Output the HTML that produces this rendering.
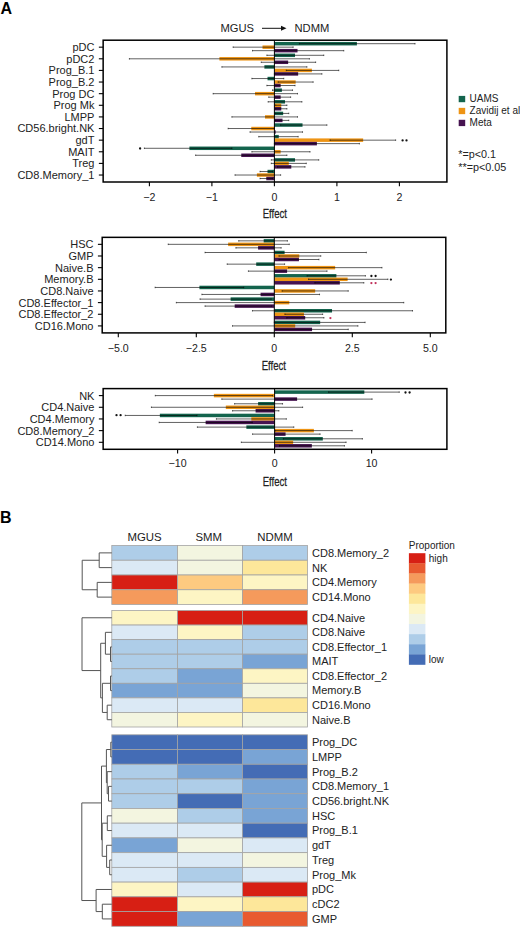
<!DOCTYPE html>
<html><head><meta charset="utf-8"><title>Figure</title>
<style>
html,body{margin:0;padding:0;background:#fff;}
body{width:520px;height:928px;overflow:hidden;}
svg{display:block;}
text{font-family:"Liberation Sans",sans-serif;fill:#222;}
.yl{font-size:11px;}
.xt{font-size:10.6px;}
.xl{font-size:12.6px;stroke:#222;stroke-width:0.25px;}
.tt{font-size:11.2px;}
.lg{font-size:10px;}
.st{font-size:10px;font-weight:bold;}
.big{font-size:16px;font-weight:bold;fill:#000;}
.hl{font-size:11px;}
.hc{font-size:11.4px;}
.hp{font-size:10px;}
</style></head><body>
<svg width="520" height="928" viewBox="0 0 520 928">
<rect width="520" height="928" fill="#fff"/>
<rect x="274.4" y="41.94" width="82.5" height="3.49" fill="#13644d"/>
<rect x="262.52" y="45.43" width="11.88" height="3.49" fill="#ee9414"/>
<rect x="274.4" y="48.92" width="23.12" height="3.49" fill="#461350"/>
<path d="M299.4 42.94 V44.44 M299.4 43.69 H415.02 M415.02 42.94 V44.44" stroke="#000" stroke-opacity="0.62" stroke-width="1" fill="none"/>
<path d="M233.15 46.42 V47.92 M233.15 47.17 H293.15 M293.15 46.42 V47.92" stroke="#000" stroke-opacity="0.62" stroke-width="1" fill="none"/>
<path d="M252.52 49.91 V51.41 M252.52 50.66 H343.77 M343.77 49.91 V51.41" stroke="#000" stroke-opacity="0.62" stroke-width="1" fill="none"/>
<rect x="274.4" y="53.57" width="20.62" height="3.49" fill="#13644d"/>
<rect x="219.4" y="57.05" width="55" height="3.49" fill="#ee9414"/>
<rect x="274.4" y="60.54" width="13.75" height="3.49" fill="#461350"/>
<path d="M266.9 54.56 V56.06 M266.9 55.31 H323.77 M323.77 54.56 V56.06" stroke="#000" stroke-opacity="0.62" stroke-width="1" fill="none"/>
<path d="M129.4 58.05 V59.55 M129.4 58.8 H309.4 M309.4 58.05 V59.55" stroke="#000" stroke-opacity="0.62" stroke-width="1" fill="none"/>
<path d="M261.27 61.53 V63.03 M261.27 62.28 H315.65 M315.65 61.53 V63.03" stroke="#000" stroke-opacity="0.62" stroke-width="1" fill="none"/>
<rect x="264.4" y="65.19" width="10" height="3.49" fill="#13644d"/>
<rect x="274.4" y="68.68" width="37.5" height="3.49" fill="#ee9414"/>
<rect x="274.4" y="72.16" width="23.75" height="3.49" fill="#461350"/>
<path d="M221.9 66.18 V67.68 M221.9 66.93 H306.9 M306.9 66.18 V67.68" stroke="#000" stroke-opacity="0.62" stroke-width="1" fill="none"/>
<path d="M286.27 69.67 V71.17 M286.27 70.42 H338.77 M338.77 69.67 V71.17" stroke="#000" stroke-opacity="0.62" stroke-width="1" fill="none"/>
<path d="M274.4 73.16 V74.66 M274.4 73.91 H321.9 M321.9 73.16 V74.66" stroke="#000" stroke-opacity="0.62" stroke-width="1" fill="none"/>
<rect x="267.52" y="76.81" width="6.88" height="3.49" fill="#13644d"/>
<rect x="274.4" y="80.3" width="21.25" height="3.49" fill="#ee9414"/>
<rect x="274.4" y="83.79" width="6.25" height="3.49" fill="#461350"/>
<path d="M251.9 77.81 V79.31 M251.9 78.56 H283.77 M283.77 77.81 V79.31" stroke="#000" stroke-opacity="0.62" stroke-width="1" fill="none"/>
<path d="M278.15 81.29 V82.79 M278.15 82.04 H313.15 M313.15 81.29 V82.79" stroke="#000" stroke-opacity="0.62" stroke-width="1" fill="none"/>
<path d="M266.9 84.78 V86.28 M266.9 85.53 H295.02 M295.02 84.78 V86.28" stroke="#000" stroke-opacity="0.62" stroke-width="1" fill="none"/>
<rect x="274.4" y="88.44" width="7.5" height="3.49" fill="#13644d"/>
<rect x="255.02" y="91.92" width="19.38" height="3.49" fill="#ee9414"/>
<rect x="274.4" y="95.41" width="6.25" height="3.49" fill="#461350"/>
<path d="M272.52 89.43 V90.93 M272.52 90.18 H292.52 M292.52 89.43 V90.93" stroke="#000" stroke-opacity="0.62" stroke-width="1" fill="none"/>
<path d="M213.15 92.92 V94.42 M213.15 93.67 H297.52 M297.52 92.92 V94.42" stroke="#000" stroke-opacity="0.62" stroke-width="1" fill="none"/>
<path d="M268.77 96.4 V97.9 M268.77 97.15 H290.65 M290.65 96.4 V97.9" stroke="#000" stroke-opacity="0.62" stroke-width="1" fill="none"/>
<rect x="274.4" y="100.06" width="10.62" height="3.49" fill="#13644d"/>
<rect x="274.4" y="103.55" width="6.88" height="3.49" fill="#ee9414"/>
<rect x="274.4" y="107.03" width="6.88" height="3.49" fill="#461350"/>
<path d="M268.15 101.05 V102.55 M268.15 101.8 H301.9 M301.9 101.05 V102.55" stroke="#000" stroke-opacity="0.62" stroke-width="1" fill="none"/>
<path d="M275.65 104.54 V106.04 M275.65 105.29 H286.9 M286.9 104.54 V106.04" stroke="#000" stroke-opacity="0.62" stroke-width="1" fill="none"/>
<path d="M275.65 108.03 V109.53 M275.65 108.78 H286.9 M286.9 108.03 V109.53" stroke="#000" stroke-opacity="0.62" stroke-width="1" fill="none"/>
<rect x="274.4" y="111.68" width="8.75" height="3.49" fill="#13644d"/>
<rect x="265.02" y="115.17" width="9.38" height="3.49" fill="#ee9414"/>
<rect x="274.4" y="118.65" width="8.12" height="3.49" fill="#461350"/>
<path d="M275.02 112.67 V114.17 M275.02 113.42 H288.77 M288.77 112.67 V114.17" stroke="#000" stroke-opacity="0.62" stroke-width="1" fill="none"/>
<path d="M231.9 116.16 V117.66 M231.9 116.91 H297.52 M297.52 116.16 V117.66" stroke="#000" stroke-opacity="0.62" stroke-width="1" fill="none"/>
<path d="M275.02 119.65 V121.15 M275.02 120.4 H288.77 M288.77 119.65 V121.15" stroke="#000" stroke-opacity="0.62" stroke-width="1" fill="none"/>
<rect x="274.4" y="123.3" width="28.12" height="3.49" fill="#13644d"/>
<rect x="251.27" y="126.79" width="23.12" height="3.49" fill="#ee9414"/>
<rect x="274.4" y="130.28" width="1.25" height="3.49" fill="#461350"/>
<path d="M280.65 124.3 V125.8 M280.65 125.05 H326.9 M326.9 124.3 V125.8" stroke="#000" stroke-opacity="0.62" stroke-width="1" fill="none"/>
<path d="M228.15 127.78 V129.28 M228.15 128.53 H274.4 M274.4 127.78 V129.28" stroke="#000" stroke-opacity="0.62" stroke-width="1" fill="none"/>
<path d="M250.02 131.27 V132.77 M250.02 132.02 H302.52 M302.52 131.27 V132.77" stroke="#000" stroke-opacity="0.62" stroke-width="1" fill="none"/>
<rect x="274.4" y="134.93" width="4.38" height="3.49" fill="#13644d"/>
<rect x="274.4" y="138.41" width="88.75" height="3.49" fill="#ee9414"/>
<rect x="274.4" y="141.9" width="42.5" height="3.49" fill="#461350"/>
<path d="M258.77 135.92 V137.42 M258.77 136.67 H298.15 M298.15 135.92 V137.42" stroke="#000" stroke-opacity="0.62" stroke-width="1" fill="none"/>
<path d="M330.02 139.41 V140.91 M330.02 140.16 H395.65 M395.65 139.41 V140.91" stroke="#000" stroke-opacity="0.62" stroke-width="1" fill="none"/>
<path d="M274.4 142.89 V144.39 M274.4 143.64 H359.4 M359.4 142.89 V144.39" stroke="#000" stroke-opacity="0.62" stroke-width="1" fill="none"/>
<rect x="189.4" y="146.55" width="85" height="3.49" fill="#13644d"/>
<rect x="274.4" y="150.04" width="6.25" height="3.49" fill="#ee9414"/>
<rect x="241.27" y="153.52" width="33.12" height="3.49" fill="#461350"/>
<path d="M144.4 147.54 V149.04 M144.4 148.29 H231.9 M231.9 147.54 V149.04" stroke="#000" stroke-opacity="0.62" stroke-width="1" fill="none"/>
<path d="M251.9 151.03 V152.53 M251.9 151.78 H310.02 M310.02 151.03 V152.53" stroke="#000" stroke-opacity="0.62" stroke-width="1" fill="none"/>
<path d="M195.65 154.52 V156.02 M195.65 155.27 H286.9 M286.9 154.52 V156.02" stroke="#000" stroke-opacity="0.62" stroke-width="1" fill="none"/>
<rect x="274.4" y="158.17" width="20.62" height="3.49" fill="#13644d"/>
<rect x="274.4" y="161.66" width="14.38" height="3.49" fill="#ee9414"/>
<rect x="274.4" y="165.15" width="16.88" height="3.49" fill="#461350"/>
<path d="M271.27 159.17 V160.67 M271.27 159.92 H318.77 M318.77 159.17 V160.67" stroke="#000" stroke-opacity="0.62" stroke-width="1" fill="none"/>
<path d="M271.27 162.65 V164.15 M271.27 163.4 H306.27 M306.27 162.65 V164.15" stroke="#000" stroke-opacity="0.62" stroke-width="1" fill="none"/>
<path d="M277.52 166.14 V167.64 M277.52 166.89 H305.02 M305.02 166.14 V167.64" stroke="#000" stroke-opacity="0.62" stroke-width="1" fill="none"/>
<rect x="267.52" y="169.8" width="6.88" height="3.49" fill="#13644d"/>
<rect x="256.9" y="173.28" width="17.5" height="3.49" fill="#ee9414"/>
<rect x="266.27" y="176.77" width="8.12" height="3.49" fill="#461350"/>
<path d="M260.02 170.79 V172.29 M260.02 171.54 H272.52 M272.52 170.79 V172.29" stroke="#000" stroke-opacity="0.62" stroke-width="1" fill="none"/>
<path d="M235.02 174.28 V175.78 M235.02 175.03 H280.65 M280.65 174.28 V175.78" stroke="#000" stroke-opacity="0.62" stroke-width="1" fill="none"/>
<path d="M260.02 177.76 V179.26 M260.02 178.51 H272.52 M272.52 177.76 V179.26" stroke="#000" stroke-opacity="0.62" stroke-width="1" fill="none"/>
<line x1="274.4" y1="40.2" x2="274.4" y2="182.0" stroke="#000" stroke-width="1"/>
<rect x="103.15" y="40.2" width="343.75" height="141.8" fill="none" stroke="#000" stroke-width="1.5"/>
<line x1="98.85000000000001" y1="47.17" x2="103.15" y2="47.17" stroke="#000" stroke-width="1.1"/>
<text x="94.45" y="51.07" text-anchor="end" class="yl">pDC</text>
<line x1="98.85000000000001" y1="58.8" x2="103.15" y2="58.8" stroke="#000" stroke-width="1.1"/>
<text x="94.45" y="62.7" text-anchor="end" class="yl">pDC2</text>
<line x1="98.85000000000001" y1="70.42" x2="103.15" y2="70.42" stroke="#000" stroke-width="1.1"/>
<text x="94.45" y="74.32" text-anchor="end" class="yl">Prog_B.1</text>
<line x1="98.85000000000001" y1="82.04" x2="103.15" y2="82.04" stroke="#000" stroke-width="1.1"/>
<text x="94.45" y="85.94" text-anchor="end" class="yl">Prog_B.2</text>
<line x1="98.85000000000001" y1="93.67" x2="103.15" y2="93.67" stroke="#000" stroke-width="1.1"/>
<text x="94.45" y="97.57" text-anchor="end" class="yl">Prog DC</text>
<line x1="98.85000000000001" y1="105.29" x2="103.15" y2="105.29" stroke="#000" stroke-width="1.1"/>
<text x="94.45" y="109.19" text-anchor="end" class="yl">Prog Mk</text>
<line x1="98.85000000000001" y1="116.91" x2="103.15" y2="116.91" stroke="#000" stroke-width="1.1"/>
<text x="94.45" y="120.81" text-anchor="end" class="yl">LMPP</text>
<line x1="98.85000000000001" y1="128.53" x2="103.15" y2="128.53" stroke="#000" stroke-width="1.1"/>
<text x="94.45" y="132.43" text-anchor="end" class="yl">CD56.bright.NK</text>
<line x1="98.85000000000001" y1="140.16" x2="103.15" y2="140.16" stroke="#000" stroke-width="1.1"/>
<text x="94.45" y="144.06" text-anchor="end" class="yl">gdT</text>
<line x1="98.85000000000001" y1="151.78" x2="103.15" y2="151.78" stroke="#000" stroke-width="1.1"/>
<text x="94.45" y="155.68" text-anchor="end" class="yl">MAIT</text>
<line x1="98.85000000000001" y1="163.4" x2="103.15" y2="163.4" stroke="#000" stroke-width="1.1"/>
<text x="94.45" y="167.3" text-anchor="end" class="yl">Treg</text>
<line x1="98.85000000000001" y1="175.03" x2="103.15" y2="175.03" stroke="#000" stroke-width="1.1"/>
<text x="94.45" y="178.93" text-anchor="end" class="yl">CD8.Memory_1</text>
<line x1="149.4" y1="182.0" x2="149.4" y2="186.3" stroke="#000" stroke-width="1.1"/>
<text x="149.4" y="200.8" text-anchor="middle" class="xt">−2</text>
<line x1="211.9" y1="182.0" x2="211.9" y2="186.3" stroke="#000" stroke-width="1.1"/>
<text x="211.9" y="200.8" text-anchor="middle" class="xt">−1</text>
<line x1="274.4" y1="182.0" x2="274.4" y2="186.3" stroke="#000" stroke-width="1.1"/>
<text x="274.4" y="200.8" text-anchor="middle" class="xt">0</text>
<line x1="336.9" y1="182.0" x2="336.9" y2="186.3" stroke="#000" stroke-width="1.1"/>
<text x="336.9" y="200.8" text-anchor="middle" class="xt">1</text>
<line x1="399.4" y1="182.0" x2="399.4" y2="186.3" stroke="#000" stroke-width="1.1"/>
<text x="399.4" y="200.8" text-anchor="middle" class="xt">2</text>
<text x="274.8" y="218.5" text-anchor="middle" class="xl" transform="translate(274.8 0) scale(0.76 1) translate(-274.8 0)">Effect</text>
<rect x="263.69" y="239.1" width="10.61" height="3.5" fill="#13644d"/>
<rect x="228.12" y="242.59" width="46.18" height="3.5" fill="#ee9414"/>
<rect x="258.08" y="246.09" width="16.22" height="3.5" fill="#461350"/>
<path d="M238.73 240.1 V241.6 M238.73 240.85 H287.4 M287.4 240.1 V241.6" stroke="#000" stroke-opacity="0.62" stroke-width="1" fill="none"/>
<path d="M168.22 243.59 V245.09 M168.22 244.34 H289.28 M289.28 243.59 V245.09" stroke="#000" stroke-opacity="0.62" stroke-width="1" fill="none"/>
<path d="M235.92 247.09 V248.59 M235.92 247.84 H281.16 M281.16 247.09 V248.59" stroke="#000" stroke-opacity="0.62" stroke-width="1" fill="none"/>
<rect x="274.3" y="250.75" width="10.3" height="3.5" fill="#13644d"/>
<rect x="274.3" y="254.25" width="24.96" height="3.5" fill="#ee9414"/>
<rect x="274.3" y="257.74" width="24.65" height="3.5" fill="#461350"/>
<path d="M205.04 251.75 V253.25 M205.04 252.5 H366.34 M366.34 251.75 V253.25" stroke="#000" stroke-opacity="0.62" stroke-width="1" fill="none"/>
<path d="M278.98 255.24 V256.74 M278.98 255.99 H320.79 M320.79 255.24 V256.74" stroke="#000" stroke-opacity="0.62" stroke-width="1" fill="none"/>
<path d="M278.98 258.74 V260.24 M278.98 259.49 H318.92 M318.92 258.74 V260.24" stroke="#000" stroke-opacity="0.62" stroke-width="1" fill="none"/>
<rect x="256.2" y="262.4" width="18.1" height="3.5" fill="#13644d"/>
<rect x="274.3" y="265.9" width="60.84" height="3.5" fill="#ee9414"/>
<rect x="274.3" y="269.39" width="12.79" height="3.5" fill="#461350"/>
<path d="M227.19 263.4 V264.9 M227.19 264.15 H284.6 M284.6 263.4 V264.9" stroke="#000" stroke-opacity="0.62" stroke-width="1" fill="none"/>
<path d="M288.65 266.9 V268.4 M288.65 267.65 H381.94 M381.94 266.9 V268.4" stroke="#000" stroke-opacity="0.62" stroke-width="1" fill="none"/>
<path d="M248.4 270.39 V271.89 M248.4 271.14 H327.03 M327.03 270.39 V271.89" stroke="#000" stroke-opacity="0.62" stroke-width="1" fill="none"/>
<rect x="274.3" y="274.06" width="62.09" height="3.5" fill="#13644d"/>
<rect x="274.3" y="277.55" width="73.32" height="3.5" fill="#ee9414"/>
<rect x="274.3" y="281.05" width="65.52" height="3.5" fill="#461350"/>
<path d="M307.06 275.05 V276.55 M307.06 275.8 H365.4 M365.4 275.05 V276.55" stroke="#000" stroke-opacity="0.62" stroke-width="1" fill="none"/>
<path d="M308.62 278.55 V280.05 M308.62 279.3 H387.87 M387.87 278.55 V280.05" stroke="#000" stroke-opacity="0.62" stroke-width="1" fill="none"/>
<path d="M314.86 282.04 V283.54 M314.86 282.79 H363.84 M363.84 282.04 V283.54" stroke="#000" stroke-opacity="0.62" stroke-width="1" fill="none"/>
<rect x="199.42" y="285.71" width="74.88" height="3.5" fill="#13644d"/>
<rect x="274.3" y="289.2" width="40.87" height="3.5" fill="#ee9414"/>
<rect x="260.57" y="292.7" width="13.73" height="3.5" fill="#461350"/>
<path d="M155.12 286.71 V288.21 M155.12 287.46 H243.72 M243.72 286.71 V288.21" stroke="#000" stroke-opacity="0.62" stroke-width="1" fill="none"/>
<path d="M282.1 290.2 V291.7 M282.1 290.95 H348.24 M348.24 290.2 V291.7" stroke="#000" stroke-opacity="0.62" stroke-width="1" fill="none"/>
<path d="M201.92 293.7 V295.2 M201.92 294.45 H319.54 M319.54 293.7 V295.2" stroke="#000" stroke-opacity="0.62" stroke-width="1" fill="none"/>
<rect x="230.62" y="297.36" width="43.68" height="3.5" fill="#13644d"/>
<rect x="274.3" y="300.86" width="14.98" height="3.5" fill="#ee9414"/>
<rect x="234.68" y="304.35" width="39.62" height="3.5" fill="#461350"/>
<path d="M200.04 298.36 V299.86 M200.04 299.11 H271.18 M271.18 298.36 V299.86" stroke="#000" stroke-opacity="0.62" stroke-width="1" fill="none"/>
<path d="M176.33 301.85 V303.35 M176.33 302.6 H403.78 M403.78 301.85 V303.35" stroke="#000" stroke-opacity="0.62" stroke-width="1" fill="none"/>
<path d="M205.04 305.35 V306.85 M205.04 306.1 H271.8 M271.8 305.35 V306.85" stroke="#000" stroke-opacity="0.62" stroke-width="1" fill="none"/>
<rect x="274.3" y="309.01" width="57.72" height="3.5" fill="#13644d"/>
<rect x="274.3" y="312.51" width="29.64" height="3.5" fill="#ee9414"/>
<rect x="274.3" y="316" width="30.89" height="3.5" fill="#461350"/>
<path d="M252.46 310.01 V311.51 M252.46 310.76 H412.52 M412.52 310.01 V311.51" stroke="#000" stroke-opacity="0.62" stroke-width="1" fill="none"/>
<path d="M284.91 313.51 V315.01 M284.91 314.26 H322.66 M322.66 313.51 V315.01" stroke="#000" stroke-opacity="0.62" stroke-width="1" fill="none"/>
<path d="M286.78 317 V318.5 M286.78 317.75 H323.91 M323.91 317 V318.5" stroke="#000" stroke-opacity="0.62" stroke-width="1" fill="none"/>
<rect x="274.3" y="320.66" width="45.86" height="3.5" fill="#13644d"/>
<rect x="274.3" y="324.16" width="20.9" height="3.5" fill="#ee9414"/>
<rect x="274.3" y="327.66" width="37.75" height="3.5" fill="#461350"/>
<path d="M274.3 321.66 V323.16 M274.3 322.41 H365.09 M365.09 321.66 V323.16" stroke="#000" stroke-opacity="0.62" stroke-width="1" fill="none"/>
<path d="M232.49 325.16 V326.66 M232.49 325.91 H357.92 M357.92 325.16 V326.66" stroke="#000" stroke-opacity="0.62" stroke-width="1" fill="none"/>
<path d="M275.86 328.65 V330.15 M275.86 329.4 H348.24 M348.24 328.65 V330.15" stroke="#000" stroke-opacity="0.62" stroke-width="1" fill="none"/>
<line x1="274.3" y1="237.35" x2="274.3" y2="332.9" stroke="#000" stroke-width="1"/>
<rect x="102.2" y="237.35" width="343.6" height="95.55" fill="none" stroke="#000" stroke-width="1.5"/>
<line x1="97.9" y1="244.34" x2="102.2" y2="244.34" stroke="#000" stroke-width="1.1"/>
<text x="93.5" y="248.24" text-anchor="end" class="yl">HSC</text>
<line x1="97.9" y1="255.99" x2="102.2" y2="255.99" stroke="#000" stroke-width="1.1"/>
<text x="93.5" y="259.89" text-anchor="end" class="yl">GMP</text>
<line x1="97.9" y1="267.65" x2="102.2" y2="267.65" stroke="#000" stroke-width="1.1"/>
<text x="93.5" y="271.55" text-anchor="end" class="yl">Naive.B</text>
<line x1="97.9" y1="279.3" x2="102.2" y2="279.3" stroke="#000" stroke-width="1.1"/>
<text x="93.5" y="283.2" text-anchor="end" class="yl">Memory.B</text>
<line x1="97.9" y1="290.95" x2="102.2" y2="290.95" stroke="#000" stroke-width="1.1"/>
<text x="93.5" y="294.85" text-anchor="end" class="yl">CD8.Naive</text>
<line x1="97.9" y1="302.6" x2="102.2" y2="302.6" stroke="#000" stroke-width="1.1"/>
<text x="93.5" y="306.5" text-anchor="end" class="yl">CD8.Effector_1</text>
<line x1="97.9" y1="314.26" x2="102.2" y2="314.26" stroke="#000" stroke-width="1.1"/>
<text x="93.5" y="318.16" text-anchor="end" class="yl">CD8.Effector_2</text>
<line x1="97.9" y1="325.91" x2="102.2" y2="325.91" stroke="#000" stroke-width="1.1"/>
<text x="93.5" y="329.81" text-anchor="end" class="yl">CD16.Mono</text>
<line x1="118.3" y1="332.9" x2="118.3" y2="337.2" stroke="#000" stroke-width="1.1"/>
<text x="118.3" y="351.6" text-anchor="middle" class="xt">−5.0</text>
<line x1="196.3" y1="332.9" x2="196.3" y2="337.2" stroke="#000" stroke-width="1.1"/>
<text x="196.3" y="351.6" text-anchor="middle" class="xt">−2.5</text>
<line x1="274.3" y1="332.9" x2="274.3" y2="337.2" stroke="#000" stroke-width="1.1"/>
<text x="274.3" y="351.6" text-anchor="middle" class="xt">0</text>
<line x1="352.3" y1="332.9" x2="352.3" y2="337.2" stroke="#000" stroke-width="1.1"/>
<text x="352.3" y="351.6" text-anchor="middle" class="xt">2.5</text>
<line x1="430.3" y1="332.9" x2="430.3" y2="337.2" stroke="#000" stroke-width="1.1"/>
<text x="430.3" y="351.6" text-anchor="middle" class="xt">5.0</text>
<text x="273.8" y="369.6" text-anchor="middle" class="xl" transform="translate(273.8 0) scale(0.76 1) translate(-273.8 0)">Effect</text>
<rect x="274.6" y="390.35" width="89.73" height="3.5" fill="#13644d"/>
<rect x="213.88" y="393.85" width="60.72" height="3.5" fill="#ee9414"/>
<rect x="274.6" y="397.35" width="22.5" height="3.5" fill="#461350"/>
<path d="M328.63 391.35 V392.85 M328.63 392.1 H399.25 M399.25 391.35 V392.85" stroke="#000" stroke-opacity="0.62" stroke-width="1" fill="none"/>
<path d="M155.29 394.85 V396.35 M155.29 395.6 H272.66 M272.66 394.85 V396.35" stroke="#000" stroke-opacity="0.62" stroke-width="1" fill="none"/>
<path d="M221.83 398.36 V399.86 M221.83 399.11 H372.09 M372.09 398.36 V399.86" stroke="#000" stroke-opacity="0.62" stroke-width="1" fill="none"/>
<rect x="258.11" y="402.02" width="16.49" height="3.5" fill="#13644d"/>
<rect x="225.81" y="405.53" width="48.79" height="3.5" fill="#ee9414"/>
<rect x="255.59" y="409.03" width="19.01" height="3.5" fill="#461350"/>
<path d="M234.64 403.03 V404.53 M234.64 403.78 H282.55 M282.55 403.03 V404.53" stroke="#000" stroke-opacity="0.62" stroke-width="1" fill="none"/>
<path d="M151.41 406.53 V408.03 M151.41 407.28 H302.63 M302.63 406.53 V408.03" stroke="#000" stroke-opacity="0.62" stroke-width="1" fill="none"/>
<path d="M232.6 410.03 V411.53 M232.6 410.78 H278.87 M278.87 410.03 V411.53" stroke="#000" stroke-opacity="0.62" stroke-width="1" fill="none"/>
<rect x="159.85" y="413.7" width="114.75" height="3.5" fill="#13644d"/>
<rect x="251.32" y="417.2" width="23.28" height="3.5" fill="#ee9414"/>
<rect x="205.63" y="420.7" width="68.97" height="3.5" fill="#461350"/>
<path d="M125.22 414.7 V416.2 M125.22 415.45 H197 M197 414.7 V416.2" stroke="#000" stroke-opacity="0.62" stroke-width="1" fill="none"/>
<path d="M216.4 418.2 V419.7 M216.4 418.95 H286.34 M286.34 418.2 V419.7" stroke="#000" stroke-opacity="0.62" stroke-width="1" fill="none"/>
<path d="M159.17 421.7 V423.2 M159.17 422.45 H252.29 M252.29 421.7 V423.2" stroke="#000" stroke-opacity="0.62" stroke-width="1" fill="none"/>
<rect x="246.37" y="425.37" width="28.23" height="3.5" fill="#13644d"/>
<rect x="274.6" y="428.87" width="39.28" height="3.5" fill="#ee9414"/>
<rect x="274.6" y="432.37" width="10.96" height="3.5" fill="#461350"/>
<path d="M197.39 426.37 V427.87 M197.39 427.12 H293.81 M293.81 426.37 V427.87" stroke="#000" stroke-opacity="0.62" stroke-width="1" fill="none"/>
<path d="M275.57 429.87 V431.37 M275.57 430.62 H352.2 M352.2 429.87 V431.37" stroke="#000" stroke-opacity="0.62" stroke-width="1" fill="none"/>
<path d="M252.58 433.38 V434.88 M252.58 434.12 H320.09 M320.09 433.38 V434.88" stroke="#000" stroke-opacity="0.62" stroke-width="1" fill="none"/>
<rect x="274.6" y="437.04" width="48.21" height="3.5" fill="#13644d"/>
<rect x="274.6" y="440.55" width="18.53" height="3.5" fill="#ee9414"/>
<rect x="274.6" y="444.05" width="37.25" height="3.5" fill="#461350"/>
<path d="M283.33 438.04 V439.54 M283.33 438.79 H362.38 M362.38 438.04 V439.54" stroke="#000" stroke-opacity="0.62" stroke-width="1" fill="none"/>
<path d="M241.33 441.55 V443.05 M241.33 442.3 H346.09 M346.09 441.55 V443.05" stroke="#000" stroke-opacity="0.62" stroke-width="1" fill="none"/>
<path d="M279.45 445.05 V446.55 M279.45 445.8 H344.44 M344.44 445.05 V446.55" stroke="#000" stroke-opacity="0.62" stroke-width="1" fill="none"/>
<line x1="274.6" y1="388.6" x2="274.6" y2="449.3" stroke="#000" stroke-width="1"/>
<rect x="103.15" y="388.6" width="343.75" height="60.7" fill="none" stroke="#000" stroke-width="1.5"/>
<line x1="98.85000000000001" y1="395.6" x2="103.15" y2="395.6" stroke="#000" stroke-width="1.1"/>
<text x="94.45" y="399.5" text-anchor="end" class="yl">NK</text>
<line x1="98.85000000000001" y1="407.28" x2="103.15" y2="407.28" stroke="#000" stroke-width="1.1"/>
<text x="94.45" y="411.18" text-anchor="end" class="yl">CD4.Naive</text>
<line x1="98.85000000000001" y1="418.95" x2="103.15" y2="418.95" stroke="#000" stroke-width="1.1"/>
<text x="94.45" y="422.85" text-anchor="end" class="yl">CD4.Memory</text>
<line x1="98.85000000000001" y1="430.62" x2="103.15" y2="430.62" stroke="#000" stroke-width="1.1"/>
<text x="94.45" y="434.52" text-anchor="end" class="yl">CD8.Memory_2</text>
<line x1="98.85000000000001" y1="442.3" x2="103.15" y2="442.3" stroke="#000" stroke-width="1.1"/>
<text x="94.45" y="446.2" text-anchor="end" class="yl">CD14.Mono</text>
<line x1="177.6" y1="449.3" x2="177.6" y2="453.6" stroke="#000" stroke-width="1.1"/>
<text x="177.6" y="467.3" text-anchor="middle" class="xt">−10</text>
<line x1="274.6" y1="449.3" x2="274.6" y2="453.6" stroke="#000" stroke-width="1.1"/>
<text x="274.6" y="467.3" text-anchor="middle" class="xt">0</text>
<line x1="371.6" y1="449.3" x2="371.6" y2="453.6" stroke="#000" stroke-width="1.1"/>
<text x="371.6" y="467.3" text-anchor="middle" class="xt">10</text>
<text x="274.8" y="486" text-anchor="middle" class="xl" transform="translate(274.8 0) scale(0.76 1) translate(-274.8 0)">Effect</text>
<circle cx="140.1" cy="148.5" r="1.15" fill="#111"/>
<circle cx="402.6" cy="140.4" r="1.15" fill="#111"/>
<circle cx="406.5" cy="140.4" r="1.15" fill="#111"/>
<circle cx="371.4" cy="276.0" r="1.15" fill="#111"/>
<circle cx="375.6" cy="276.0" r="1.15" fill="#111"/>
<circle cx="390.9" cy="279.6" r="1.15" fill="#111"/>
<circle cx="371.4" cy="283.1" r="1.15" fill="#c0305a"/>
<circle cx="375.6" cy="283.1" r="1.15" fill="#c0305a"/>
<circle cx="330.4" cy="318.1" r="1.15" fill="#c0305a"/>
<circle cx="405.5" cy="392.5" r="1.15" fill="#111"/>
<circle cx="409.6" cy="392.5" r="1.15" fill="#111"/>
<circle cx="116.5" cy="415.2" r="1.15" fill="#111"/>
<circle cx="120.6" cy="415.2" r="1.15" fill="#111"/>
<text x="220.5" y="32" class="tt">MGUS</text>
<line x1="262" y1="28.3" x2="284" y2="28.3" stroke="#111" stroke-width="1"/>
<path d="M281 25.8 L286.5 28.3 L281 30.8 Z" fill="#111"/>
<text x="294.5" y="32" class="tt">NDMM</text>
<rect x="458.7" y="95.9" width="6.5" height="6.3" fill="#13644d"/>
<text x="469.6" y="102.4" class="lg">UAMS</text>
<rect x="458.7" y="107.85" width="6.5" height="6.3" fill="#ee9414"/>
<text x="469.6" y="114.35" class="lg">Zavidij et al</text>
<rect x="458.7" y="119.8" width="6.5" height="6.3" fill="#461350"/>
<text x="469.6" y="126.3" class="lg">Meta</text>
<text x="458.3" y="157.7" class="lg" style="font-size:10.8px">*=p&lt;0.1</text>
<text x="458.3" y="171.1" class="lg" style="font-size:10.8px">**=p&lt;0.05</text>
<text x="0.4" y="13.85" class="big">A</text>
<text x="-0.1" y="522.6" class="big">B</text>
<rect x="111.8" y="545.5" width="65.7" height="14.75" fill="#aecde8" stroke="#a3a3a3" stroke-width="0.8"/>
<rect x="177.5" y="545.5" width="65" height="14.75" fill="#f3f5e0" stroke="#a3a3a3" stroke-width="0.8"/>
<rect x="242.5" y="545.5" width="65" height="14.75" fill="#aecde8" stroke="#a3a3a3" stroke-width="0.8"/>
<text x="312" y="556.77" class="hl">CD8.Memory_2</text>
<rect x="111.8" y="560.25" width="65.7" height="14.75" fill="#dbe9f5" stroke="#a3a3a3" stroke-width="0.8"/>
<rect x="177.5" y="560.25" width="65" height="14.75" fill="#f3f5e0" stroke="#a3a3a3" stroke-width="0.8"/>
<rect x="242.5" y="560.25" width="65" height="14.75" fill="#fde79a" stroke="#a3a3a3" stroke-width="0.8"/>
<text x="312" y="571.52" class="hl">NK</text>
<rect x="111.8" y="575" width="65.7" height="14.75" fill="#d71f14" stroke="#a3a3a3" stroke-width="0.8"/>
<rect x="177.5" y="575" width="65" height="14.75" fill="#fdca80" stroke="#a3a3a3" stroke-width="0.8"/>
<rect x="242.5" y="575" width="65" height="14.75" fill="#fdf5c4" stroke="#a3a3a3" stroke-width="0.8"/>
<text x="312" y="586.27" class="hl">CD4.Memory</text>
<rect x="111.8" y="589.75" width="65.7" height="14.75" fill="#f59a5c" stroke="#a3a3a3" stroke-width="0.8"/>
<rect x="177.5" y="589.75" width="65" height="14.75" fill="#fdf5c4" stroke="#a3a3a3" stroke-width="0.8"/>
<rect x="242.5" y="589.75" width="65" height="14.75" fill="#f59a5c" stroke="#a3a3a3" stroke-width="0.8"/>
<text x="312" y="601.02" class="hl">CD14.Mono</text>
<rect x="111.8" y="610.5" width="65.7" height="14.56" fill="#fdf5c4" stroke="#a3a3a3" stroke-width="0.8"/>
<rect x="177.5" y="610.5" width="65" height="14.56" fill="#d71f14" stroke="#a3a3a3" stroke-width="0.8"/>
<rect x="242.5" y="610.5" width="65" height="14.56" fill="#d71f14" stroke="#a3a3a3" stroke-width="0.8"/>
<text x="312" y="621.68" class="hl">CD4.Naive</text>
<rect x="111.8" y="625.06" width="65.7" height="14.56" fill="#dbe9f5" stroke="#a3a3a3" stroke-width="0.8"/>
<rect x="177.5" y="625.06" width="65" height="14.56" fill="#fdf5c4" stroke="#a3a3a3" stroke-width="0.8"/>
<rect x="242.5" y="625.06" width="65" height="14.56" fill="#aecde8" stroke="#a3a3a3" stroke-width="0.8"/>
<text x="312" y="636.24" class="hl">CD8.Naive</text>
<rect x="111.8" y="639.62" width="65.7" height="14.56" fill="#aecde8" stroke="#a3a3a3" stroke-width="0.8"/>
<rect x="177.5" y="639.62" width="65" height="14.56" fill="#aecde8" stroke="#a3a3a3" stroke-width="0.8"/>
<rect x="242.5" y="639.62" width="65" height="14.56" fill="#aecde8" stroke="#a3a3a3" stroke-width="0.8"/>
<text x="312" y="650.81" class="hl">CD8.Effector_1</text>
<rect x="111.8" y="654.19" width="65.7" height="14.56" fill="#aecde8" stroke="#a3a3a3" stroke-width="0.8"/>
<rect x="177.5" y="654.19" width="65" height="14.56" fill="#aecde8" stroke="#a3a3a3" stroke-width="0.8"/>
<rect x="242.5" y="654.19" width="65" height="14.56" fill="#79a4d5" stroke="#a3a3a3" stroke-width="0.8"/>
<text x="312" y="665.37" class="hl">MAIT</text>
<rect x="111.8" y="668.75" width="65.7" height="14.56" fill="#aecde8" stroke="#a3a3a3" stroke-width="0.8"/>
<rect x="177.5" y="668.75" width="65" height="14.56" fill="#79a4d5" stroke="#a3a3a3" stroke-width="0.8"/>
<rect x="242.5" y="668.75" width="65" height="14.56" fill="#fdf5c4" stroke="#a3a3a3" stroke-width="0.8"/>
<text x="312" y="679.93" class="hl">CD8.Effector_2</text>
<rect x="111.8" y="683.31" width="65.7" height="14.56" fill="#79a4d5" stroke="#a3a3a3" stroke-width="0.8"/>
<rect x="177.5" y="683.31" width="65" height="14.56" fill="#79a4d5" stroke="#a3a3a3" stroke-width="0.8"/>
<rect x="242.5" y="683.31" width="65" height="14.56" fill="#f3f5e0" stroke="#a3a3a3" stroke-width="0.8"/>
<text x="312" y="694.49" class="hl">Memory.B</text>
<rect x="111.8" y="697.88" width="65.7" height="14.56" fill="#dbe9f5" stroke="#a3a3a3" stroke-width="0.8"/>
<rect x="177.5" y="697.88" width="65" height="14.56" fill="#dbe9f5" stroke="#a3a3a3" stroke-width="0.8"/>
<rect x="242.5" y="697.88" width="65" height="14.56" fill="#fde79a" stroke="#a3a3a3" stroke-width="0.8"/>
<text x="312" y="709.06" class="hl">CD16.Mono</text>
<rect x="111.8" y="712.44" width="65.7" height="14.56" fill="#f3f5e0" stroke="#a3a3a3" stroke-width="0.8"/>
<rect x="177.5" y="712.44" width="65" height="14.56" fill="#fdf5c4" stroke="#a3a3a3" stroke-width="0.8"/>
<rect x="242.5" y="712.44" width="65" height="14.56" fill="#f3f5e0" stroke="#a3a3a3" stroke-width="0.8"/>
<text x="312" y="723.62" class="hl">Naive.B</text>
<rect x="111.8" y="734.8" width="65.7" height="14.73" fill="#446cb5" stroke="#a3a3a3" stroke-width="0.8"/>
<rect x="177.5" y="734.8" width="65" height="14.73" fill="#446cb5" stroke="#a3a3a3" stroke-width="0.8"/>
<rect x="242.5" y="734.8" width="65" height="14.73" fill="#446cb5" stroke="#a3a3a3" stroke-width="0.8"/>
<text x="312" y="746.07" class="hl">Prog_DC</text>
<rect x="111.8" y="749.53" width="65.7" height="14.73" fill="#446cb5" stroke="#a3a3a3" stroke-width="0.8"/>
<rect x="177.5" y="749.53" width="65" height="14.73" fill="#446cb5" stroke="#a3a3a3" stroke-width="0.8"/>
<rect x="242.5" y="749.53" width="65" height="14.73" fill="#79a4d5" stroke="#a3a3a3" stroke-width="0.8"/>
<text x="312" y="760.8" class="hl">LMPP</text>
<rect x="111.8" y="764.26" width="65.7" height="14.73" fill="#aecde8" stroke="#a3a3a3" stroke-width="0.8"/>
<rect x="177.5" y="764.26" width="65" height="14.73" fill="#79a4d5" stroke="#a3a3a3" stroke-width="0.8"/>
<rect x="242.5" y="764.26" width="65" height="14.73" fill="#446cb5" stroke="#a3a3a3" stroke-width="0.8"/>
<text x="312" y="775.53" class="hl">Prog_B.2</text>
<rect x="111.8" y="778.99" width="65.7" height="14.73" fill="#aecde8" stroke="#a3a3a3" stroke-width="0.8"/>
<rect x="177.5" y="778.99" width="65" height="14.73" fill="#aecde8" stroke="#a3a3a3" stroke-width="0.8"/>
<rect x="242.5" y="778.99" width="65" height="14.73" fill="#79a4d5" stroke="#a3a3a3" stroke-width="0.8"/>
<text x="312" y="790.26" class="hl">CD8.Memory_1</text>
<rect x="111.8" y="793.72" width="65.7" height="14.73" fill="#aecde8" stroke="#a3a3a3" stroke-width="0.8"/>
<rect x="177.5" y="793.72" width="65" height="14.73" fill="#446cb5" stroke="#a3a3a3" stroke-width="0.8"/>
<rect x="242.5" y="793.72" width="65" height="14.73" fill="#79a4d5" stroke="#a3a3a3" stroke-width="0.8"/>
<text x="312" y="804.99" class="hl">CD56.bright.NK</text>
<rect x="111.8" y="808.45" width="65.7" height="14.73" fill="#f3f5e0" stroke="#a3a3a3" stroke-width="0.8"/>
<rect x="177.5" y="808.45" width="65" height="14.73" fill="#aecde8" stroke="#a3a3a3" stroke-width="0.8"/>
<rect x="242.5" y="808.45" width="65" height="14.73" fill="#79a4d5" stroke="#a3a3a3" stroke-width="0.8"/>
<text x="312" y="819.72" class="hl">HSC</text>
<rect x="111.8" y="823.18" width="65.7" height="14.73" fill="#dbe9f5" stroke="#a3a3a3" stroke-width="0.8"/>
<rect x="177.5" y="823.18" width="65" height="14.73" fill="#dbe9f5" stroke="#a3a3a3" stroke-width="0.8"/>
<rect x="242.5" y="823.18" width="65" height="14.73" fill="#446cb5" stroke="#a3a3a3" stroke-width="0.8"/>
<text x="312" y="834.45" class="hl">Prog_B.1</text>
<rect x="111.8" y="837.92" width="65.7" height="14.73" fill="#79a4d5" stroke="#a3a3a3" stroke-width="0.8"/>
<rect x="177.5" y="837.92" width="65" height="14.73" fill="#f3f5e0" stroke="#a3a3a3" stroke-width="0.8"/>
<rect x="242.5" y="837.92" width="65" height="14.73" fill="#dbe9f5" stroke="#a3a3a3" stroke-width="0.8"/>
<text x="312" y="849.18" class="hl">gdT</text>
<rect x="111.8" y="852.65" width="65.7" height="14.73" fill="#dbe9f5" stroke="#a3a3a3" stroke-width="0.8"/>
<rect x="177.5" y="852.65" width="65" height="14.73" fill="#dbe9f5" stroke="#a3a3a3" stroke-width="0.8"/>
<rect x="242.5" y="852.65" width="65" height="14.73" fill="#f3f5e0" stroke="#a3a3a3" stroke-width="0.8"/>
<text x="312" y="863.91" class="hl">Treg</text>
<rect x="111.8" y="867.38" width="65.7" height="14.73" fill="#dbe9f5" stroke="#a3a3a3" stroke-width="0.8"/>
<rect x="177.5" y="867.38" width="65" height="14.73" fill="#aecde8" stroke="#a3a3a3" stroke-width="0.8"/>
<rect x="242.5" y="867.38" width="65" height="14.73" fill="#dbe9f5" stroke="#a3a3a3" stroke-width="0.8"/>
<text x="312" y="878.64" class="hl">Prog_Mk</text>
<rect x="111.8" y="882.11" width="65.7" height="14.73" fill="#fdf5c4" stroke="#a3a3a3" stroke-width="0.8"/>
<rect x="177.5" y="882.11" width="65" height="14.73" fill="#dbe9f5" stroke="#a3a3a3" stroke-width="0.8"/>
<rect x="242.5" y="882.11" width="65" height="14.73" fill="#d71f14" stroke="#a3a3a3" stroke-width="0.8"/>
<text x="312" y="893.37" class="hl">pDC</text>
<rect x="111.8" y="896.84" width="65.7" height="14.73" fill="#d71f14" stroke="#a3a3a3" stroke-width="0.8"/>
<rect x="177.5" y="896.84" width="65" height="14.73" fill="#fdf5c4" stroke="#a3a3a3" stroke-width="0.8"/>
<rect x="242.5" y="896.84" width="65" height="14.73" fill="#fde79a" stroke="#a3a3a3" stroke-width="0.8"/>
<text x="312" y="908.1" class="hl">cDC2</text>
<rect x="111.8" y="911.57" width="65.7" height="14.73" fill="#d71f14" stroke="#a3a3a3" stroke-width="0.8"/>
<rect x="177.5" y="911.57" width="65" height="14.73" fill="#79a4d5" stroke="#a3a3a3" stroke-width="0.8"/>
<rect x="242.5" y="911.57" width="65" height="14.73" fill="#e85a30" stroke="#a3a3a3" stroke-width="0.8"/>
<text x="312" y="922.83" class="hl">GMP</text>
<text x="144.6" y="541.2" text-anchor="middle" class="hc">MGUS</text>
<text x="208.8" y="541.2" text-anchor="middle" class="hc">SMM</text>
<text x="275" y="541.2" text-anchor="middle" class="hc">NDMM</text>
<path d="M111.8 552.88 H99.2 V567.62 H111.8" fill="none" stroke="#555" stroke-width="1"/>
<path d="M111.8 582.38 H97.2 V597.12 H111.8" fill="none" stroke="#555" stroke-width="1"/>
<path d="M99.2 560.25 H82.2 V589.75 H97.2" fill="none" stroke="#555" stroke-width="1"/>
<path d="M111.8 646.91 H110.5 V661.47 H111.8" fill="none" stroke="#555" stroke-width="1"/>
<path d="M111.8 632.34 H105.4 V654.19 H110.5" fill="none" stroke="#555" stroke-width="1"/>
<path d="M111.8 676.03 H110.5 V690.59 H111.8" fill="none" stroke="#555" stroke-width="1"/>
<path d="M111.8 705.16 H107.2 V719.72 H111.8" fill="none" stroke="#555" stroke-width="1"/>
<path d="M110.5 683.31 H102.4 V712.44 H107.2" fill="none" stroke="#555" stroke-width="1"/>
<path d="M105.4 643.27 H100.7 V697.88 H102.4" fill="none" stroke="#555" stroke-width="1"/>
<path d="M111.8 617.78 H82 V670.57 H100.7" fill="none" stroke="#555" stroke-width="1"/>
<path d="M111.8 742.17 H110.8 V756.9 H111.8" fill="none" stroke="#555" stroke-width="1"/>
<path d="M111.8 786.36 H108.5 V801.09 H111.8" fill="none" stroke="#555" stroke-width="1"/>
<path d="M111.8 771.63 H107.2 V793.72 H108.5" fill="none" stroke="#555" stroke-width="1"/>
<path d="M110.8 749.53 H106.4 V782.67 H107.2" fill="none" stroke="#555" stroke-width="1"/>
<path d="M111.8 815.82 H107.3 V830.55 H111.8" fill="none" stroke="#555" stroke-width="1"/>
<path d="M111.8 860.01 H109.7 V874.74 H111.8" fill="none" stroke="#555" stroke-width="1"/>
<path d="M111.8 845.28 H106.6 V867.38 H109.7" fill="none" stroke="#555" stroke-width="1"/>
<path d="M107.3 823.18 H102.2 V856.33 H106.6" fill="none" stroke="#555" stroke-width="1"/>
<path d="M106.4 766.1 H101.5 V839.76 H102.2" fill="none" stroke="#555" stroke-width="1"/>
<path d="M111.8 904.2 H102.3 V918.93 H111.8" fill="none" stroke="#555" stroke-width="1"/>
<path d="M111.8 889.47 H96.1 V911.57 H102.3" fill="none" stroke="#555" stroke-width="1"/>
<path d="M101.5 802.93 H81.8 V900.52 H96.1" fill="none" stroke="#555" stroke-width="1"/>
<text x="408.8" y="548.6" class="hp">Proportion</text>
<rect x="408.9" y="553.2" width="16.5" height="10.42" fill="#d71f14"/>
<rect x="408.9" y="563.32" width="16.5" height="10.42" fill="#e85a30"/>
<rect x="408.9" y="573.44" width="16.5" height="10.42" fill="#f59a5c"/>
<rect x="408.9" y="583.55" width="16.5" height="10.42" fill="#fdca80"/>
<rect x="408.9" y="593.67" width="16.5" height="10.42" fill="#fde79a"/>
<rect x="408.9" y="603.79" width="16.5" height="10.42" fill="#fdf5c4"/>
<rect x="408.9" y="613.91" width="16.5" height="10.42" fill="#f3f5e0"/>
<rect x="408.9" y="624.03" width="16.5" height="10.42" fill="#dbe9f5"/>
<rect x="408.9" y="634.15" width="16.5" height="10.42" fill="#aecde8"/>
<rect x="408.9" y="644.26" width="16.5" height="10.42" fill="#79a4d5"/>
<rect x="408.9" y="654.38" width="16.5" height="10.42" fill="#446cb5"/>
<text x="428.8" y="561.6" class="hp">high</text>
<text x="428.8" y="663.2" class="hp">low</text>
</svg>
</body></html>
